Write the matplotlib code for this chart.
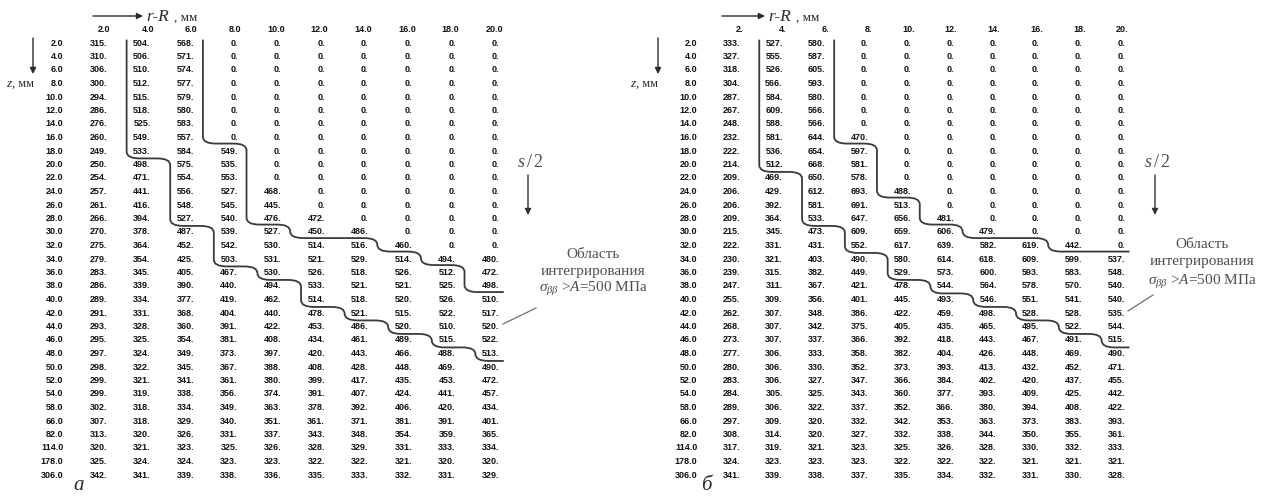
import numpy as np
import matplotlib
matplotlib.use("Agg")
import matplotlib.pyplot as plt
from matplotlib.path import Path
from matplotlib.patches import PathPatch

# ---------------------------------------------------------------- data
z_rows = [2.0, 4.0, 6.0, 8.0, 10.0, 12.0, 14.0, 16.0, 18.0, 20.0, 22.0, 24.0,
          26.0, 28.0, 30.0, 32.0, 34.0, 36.0, 38.0, 40.0, 42.0, 44.0, 46.0,
          48.0, 50.0, 52.0, 54.0, 58.0, 66.0, 82.0, 114.0, 178.0, 306.0]
r_cols = [2.0, 4.0, 6.0, 8.0, 10.0, 12.0, 14.0, 16.0, 18.0, 20.0]
cols_a = ["2.0", "4.0", "6.0", "8.0", "10.0", "12.0", "14.0", "16.0", "18.0", "20.0"]
cols_b = ["2.", "4.", "6.", "8.", "10.", "12.", "14.", "16.", "18.", "20."]
A_limit = 500  # MPa, integration threshold

sigma_a = np.array([
    [315, 504, 568, 0, 0, 0, 0, 0, 0, 0],
    [310, 506, 571, 0, 0, 0, 0, 0, 0, 0],
    [306, 510, 574, 0, 0, 0, 0, 0, 0, 0],
    [300, 512, 577, 0, 0, 0, 0, 0, 0, 0],
    [294, 515, 579, 0, 0, 0, 0, 0, 0, 0],
    [286, 518, 580, 0, 0, 0, 0, 0, 0, 0],
    [276, 525, 583, 0, 0, 0, 0, 0, 0, 0],
    [260, 549, 557, 0, 0, 0, 0, 0, 0, 0],
    [249, 533, 584, 549, 0, 0, 0, 0, 0, 0],
    [250, 498, 575, 535, 0, 0, 0, 0, 0, 0],
    [254, 471, 554, 553, 0, 0, 0, 0, 0, 0],
    [257, 441, 556, 527, 468, 0, 0, 0, 0, 0],
    [261, 416, 548, 545, 445, 0, 0, 0, 0, 0],
    [266, 394, 527, 540, 476, 472, 0, 0, 0, 0],
    [270, 378, 487, 539, 527, 450, 486, 0, 0, 0],
    [275, 364, 452, 542, 530, 514, 516, 460, 0, 0],
    [279, 354, 425, 503, 531, 521, 529, 514, 494, 480],
    [283, 345, 405, 467, 530, 526, 518, 526, 512, 472],
    [286, 339, 390, 440, 494, 533, 521, 521, 525, 498],
    [289, 334, 377, 419, 462, 514, 518, 520, 526, 510],
    [291, 331, 368, 404, 440, 478, 521, 515, 522, 517],
    [293, 328, 360, 391, 422, 453, 486, 520, 510, 520],
    [295, 325, 354, 381, 408, 434, 461, 489, 515, 522],
    [297, 324, 349, 373, 397, 420, 443, 466, 488, 513],
    [298, 322, 345, 367, 388, 408, 428, 448, 469, 490],
    [299, 321, 341, 361, 380, 399, 417, 435, 453, 472],
    [299, 319, 338, 356, 374, 391, 407, 424, 441, 457],
    [302, 318, 334, 349, 363, 378, 392, 406, 420, 434],
    [307, 318, 329, 340, 351, 361, 371, 381, 391, 401],
    [313, 320, 326, 331, 337, 343, 348, 354, 359, 365],
    [320, 321, 323, 325, 326, 328, 329, 331, 333, 334],
    [325, 324, 324, 323, 323, 322, 322, 321, 320, 320],
    [342, 341, 339, 338, 336, 335, 333, 332, 331, 329],
])

sigma_b = np.array([
    [333, 527, 580, 0, 0, 0, 0, 0, 0, 0],
    [327, 555, 587, 0, 0, 0, 0, 0, 0, 0],
    [318, 526, 605, 0, 0, 0, 0, 0, 0, 0],
    [304, 566, 593, 0, 0, 0, 0, 0, 0, 0],
    [287, 584, 580, 0, 0, 0, 0, 0, 0, 0],
    [267, 609, 566, 0, 0, 0, 0, 0, 0, 0],
    [248, 588, 566, 0, 0, 0, 0, 0, 0, 0],
    [232, 581, 644, 470, 0, 0, 0, 0, 0, 0],
    [222, 536, 654, 597, 0, 0, 0, 0, 0, 0],
    [214, 512, 668, 581, 0, 0, 0, 0, 0, 0],
    [209, 469, 650, 578, 0, 0, 0, 0, 0, 0],
    [206, 429, 612, 693, 488, 0, 0, 0, 0, 0],
    [206, 392, 581, 691, 513, 0, 0, 0, 0, 0],
    [209, 364, 533, 647, 656, 481, 0, 0, 0, 0],
    [215, 345, 473, 609, 659, 606, 479, 0, 0, 0],
    [222, 331, 431, 552, 617, 639, 582, 619, 442, 0],
    [230, 321, 403, 490, 580, 614, 618, 609, 599, 537],
    [239, 315, 382, 449, 529, 573, 600, 593, 583, 548],
    [247, 311, 367, 421, 478, 544, 564, 578, 570, 540],
    [255, 309, 356, 401, 445, 493, 546, 551, 541, 540],
    [262, 307, 348, 386, 422, 459, 498, 528, 528, 535],
    [268, 307, 342, 375, 405, 435, 465, 495, 522, 544],
    [273, 307, 337, 366, 392, 418, 443, 467, 491, 515],
    [277, 306, 333, 358, 382, 404, 426, 448, 469, 490],
    [280, 306, 330, 352, 373, 393, 413, 432, 452, 471],
    [283, 306, 327, 347, 366, 384, 402, 420, 437, 455],
    [284, 305, 325, 343, 360, 377, 393, 409, 425, 442],
    [289, 306, 322, 337, 352, 366, 380, 394, 408, 422],
    [297, 309, 320, 332, 342, 353, 363, 373, 383, 393],
    [308, 314, 320, 327, 332, 338, 344, 350, 355, 361],
    [317, 319, 321, 323, 325, 326, 328, 330, 332, 333],
    [324, 323, 323, 323, 322, 322, 322, 321, 321, 321],
    [341, 339, 338, 337, 335, 334, 332, 331, 330, 328],
])

# ---------------------------------------------------------------- style
W, H = 1288, 503
plt.rcParams["mathtext.fontset"] = "custom"
plt.rcParams["mathtext.rm"] = "Liberation Serif"
plt.rcParams["mathtext.it"] = "Liberation Serif:italic"

NUM = dict(family="Liberation Sans", fontweight="bold", fontsize=6.5,
           color="#111111", ha="right", va="center")
SERIF = "Liberation Serif"
LINE_C = "#3a3a3a"
NOTE_C = "#4d4d4d"

fig = plt.figure(figsize=(W / 100, H / 100), dpi=100)
fig.patch.set_facecolor("white")

# overlay in pixel coordinates for captions and arrows
ov = fig.add_axes([0, 0, 1, 1])
ov.set_xlim(0, W)
ov.set_ylim(H, 0)
ov.axis("off")


def region_limits(M, thr):
    """First contiguous run of cells above thr in every column."""
    top, bot = {}, {}
    for j in range(M.shape[1]):
        idx = np.where(M[:, j] > thr)[0]
        if len(idx) == 0:
            continue
        run = [idx[0]]
        for k in idx[1:]:
            if k == run[-1] + 1:
                run.append(k)
            else:
                break
        top[j], bot[j] = run[0], run[-1]
    return top, bot


def staircase(steps, y_start, x_end):
    """steps: list of (x of vertical, y of following horizontal)."""
    pts = [(steps[0][0], y_start)]
    for k, (xv, yh) in enumerate(steps):
        pts.append((xv, yh))
        nx = steps[k + 1][0] if k + 1 < len(steps) else x_end
        pts.append((nx, yh))
    clean = [pts[0]]
    for p in pts[1:]:
        if np.allclose(p, clean[-1]):
            continue
        clean.append(p)
    out = [clean[0]]
    for k in range(1, len(clean) - 1):
        a, b, c = clean[k - 1], clean[k], clean[k + 1]
        if (a[0] == b[0] == c[0]) or (a[1] == b[1] == c[1]):
            continue
        out.append(b)
    out.append(clean[-1])
    return out


def rounded_path(pts, rx, ry):
    verts = [pts[0]]
    codes = [Path.MOVETO]
    r = np.array([rx, ry])
    for k in range(1, len(pts) - 1):
        p0, p1, p2 = (np.array(p, float) for p in pts[k - 1:k + 2])
        d1, d2 = p1 - p0, p2 - p1
        a = p1 - np.sign(d1) * np.minimum(r, np.abs(d1) / 2)
        b = p1 + np.sign(d2) * np.minimum(r, np.abs(d2) / 2)
        verts += [tuple(a), tuple(p1), tuple(b)]
        codes += [Path.LINETO, Path.CURVE3, Path.CURVE3]
    verts.append(pts[-1])
    codes.append(Path.LINETO)
    return Path(verts, codes)


def draw_table(M, headers, x_first, dx, y_first, dy):
    """Table axes: x = column index, y = row index."""
    ax = fig.add_axes([0, 0, 1, 1])
    ax.set_xlim((0 - x_first) / dx, (W - x_first) / dx)
    ax.set_ylim((H - y_first) / dy, (0 - y_first) / dy)
    ax.axis("off")
    ax.patch.set_alpha(0)
    nr, nc = M.shape
    for j, h in enumerate(headers):
        ax.text(j + 0.08, -1, h, **NUM)
    for i, z in enumerate(z_rows):
        ax.text(-1, i, f"{z:.1f}", **NUM)
        for j in range(nc):
            ax.text(j, i, f"{M[i, j]}.", **NUM)

    # boundaries of the zone sigma > A
    top, bot = region_limits(M, A_limit)
    cols = sorted(top)
    y0, x_end = -0.25, nc - 1 + 0.1
    lead = max(j for j in cols if top[j] == 0)
    up_steps = [(j + 0.2, top[jn] - 0.55)
                for j, jn in zip(cols, cols[1:]) if j >= lead]
    lo_steps = [(j - 0.55, bot[j] + 0.55) for j in cols]
    for steps in (up_steps, lo_steps):
        pts = staircase(steps, y0, x_end)
        ax.add_patch(PathPatch(rounded_path(pts, 0.3, 0.5), fill=False,
                               lw=1.3, ec=LINE_C, capstyle="butt"))
    return ax


draw_table(sigma_a, cols_a, 107, 43.6, 43, 13.5)
draw_table(sigma_b, cols_b, 740, 42.8, 43, 13.5)

ARW = dict(arrowstyle="-|>", color="#2a2a2a", lw=1.0, mutation_scale=9,
           shrinkA=0, shrinkB=0)


def captions(ox, zx, xt0, xt1, lab, lab_xy, s2x, note_x, note_y, lead_line):
    # r-R axis arrow
    ov.annotate("", xy=(xt1, 16), xytext=(xt0, 16), arrowprops=ARW)
    ov.text(xt1 + 3, 17, "r-R", family=SERIF, style="italic", fontsize=12.5,
            color="#2a2a2a", ha="left", va="center")
    ov.text(xt1 + 31, 18, ", мм", family=SERIF, fontsize=9.5,
            color="#2a2a2a", ha="left", va="center")
    # z axis arrow
    ov.annotate("", xy=(zx, 74), xytext=(zx, 38), arrowprops=ARW)
    ov.text(ox, 83.5, "z", family=SERIF, style="italic", fontsize=9.5,
            color="#2a2a2a", ha="left", va="center")
    ov.text(ox + 6, 84, ", мм", family=SERIF, fontsize=9,
            color="#2a2a2a", ha="left", va="center")
    # s/2 marker
    ov.text(s2x, 162, "$s\\,/\\,2$", fontsize=13, color=NOTE_C,
            ha="center", va="center")
    ov.annotate("", xy=(s2x - 2, 215), xytext=(s2x - 2, 175),
                arrowprops=dict(ARW, color="#333333"))
    # note about the integration zone
    lines = ["Область", "интегрирования",
             "$\\sigma_{\\beta\\beta}$ >$A$=500 МПа"]
    for k, t in enumerate(lines):
        ov.text(note_x, note_y[k], t, family=SERIF, fontsize=11,
                color=NOTE_C, ha="center", va="center")
    (x0, y0), (x1, y1) = lead_line
    ov.plot([x0, x1], [y0, y1], color="#707070", lw=0.9)
    # panel letter
    ov.text(lab_xy[0], lab_xy[1], lab, family=SERIF, style="italic",
            fontsize=15, color="#2a2a2a", ha="center", va="center")


captions(6, 33, 93, 143, "а", (79, 486), 530, 593, (254, 272, 289),
         ((536, 308), (503, 324)))
captions(630, 658, 722, 765, "б", (706, 486), 1157, 1202, (244, 262, 282),
         ((1153, 295), (1128, 311)))

fig.savefig("out.png", dpi=100, facecolor="white")
